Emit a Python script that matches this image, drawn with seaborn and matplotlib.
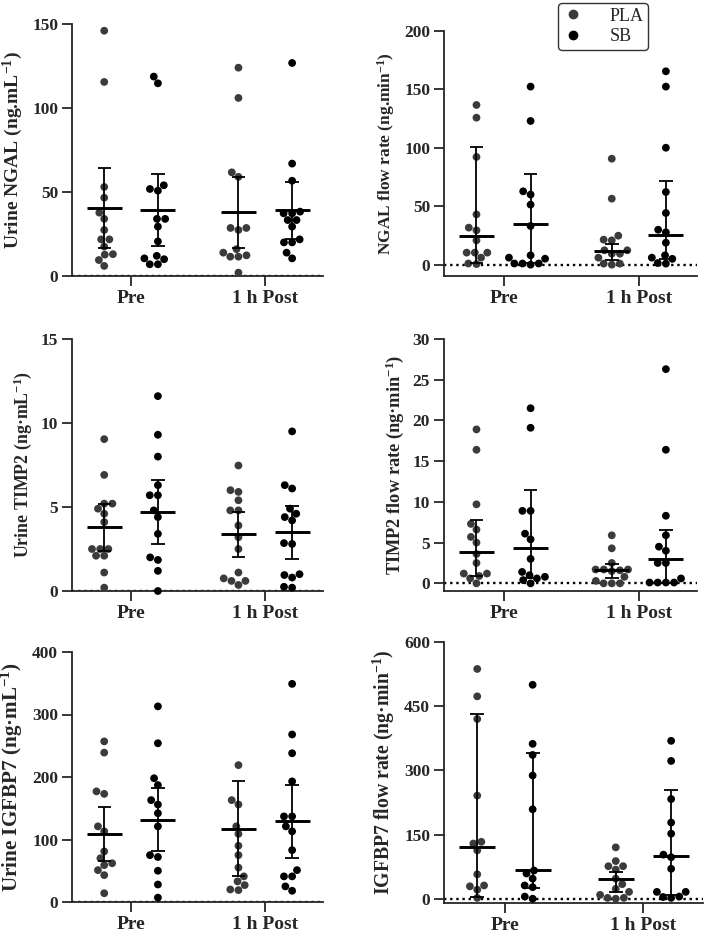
import numpy as np
import pandas as pd
import matplotlib
matplotlib.use('Agg')
import matplotlib.pyplot as plt
from matplotlib.lines import Line2D
import seaborn as sns

sns.set_style('ticks')
plt.rcParams['font.family'] = ['Liberation Serif', 'DejaVu Serif']
plt.rcParams['mathtext.fontset'] = 'custom'
plt.rcParams['mathtext.rm'] = 'Liberation Serif:bold'
plt.rcParams['mathtext.default'] = 'rm'

times = ['Pre', '1 h Post']
groups = ['PLA', 'SB']
group_colors = ['#3b3b3b', '#000000']

# order of every list below: PLA Pre, SB Pre, PLA Post, SB Post
# Urine NGAL (mean +/- SD)
ngal_pla_pre = [146, 115.5, 53, 46.6, 37.7, 34, 27.4, 21.8, 21.8, 17.5, 13, 12.7, 9.5, 6]
ngal_sb_pre = [118.7, 114.7, 54, 51.8, 50.8, 34, 34, 29.4, 20.6, 12, 10.5, 10, 7, 7]
ngal_pla_post = [124, 106, 61.7, 59, 28.6, 28.6, 27.4, 16, 13.9, 12.3, 11.5, 11.5, 2]
ngal_sb_post = [126.8, 66.9, 56.7, 38.3, 37.3, 37.3, 33.3, 33.3, 29.4, 21.8, 20, 20, 13.9, 10.5]
ngal_mid = [40.3, 39.5, 37.9, 39.1]
ngal_lo = [16.5, 18, 16.7, 21.8]
ngal_hi = [64, 60.7, 59, 56]

# NGAL flow rate (median, IQR)
ngalf_pla_pre = [136.7, 125.8, 92.2, 43, 31.7, 29.4, 20.8, 10.3, 10.3, 10.3, 6, 1, 0.5]
ngalf_sb_pre = [152.4, 123, 62.8, 60, 51.4, 33.1, 8, 6, 5.1, 1, 1, 1, 0]
ngalf_pla_post = [90.7, 56.5, 24.8, 21.4, 20.8, 12.3, 12.3, 9.4, 9.4, 6, 0.9, 0.9, 0]
ngalf_sb_post = [165.5, 152.4, 100.1, 62.2, 44.2, 29.9, 27.7, 18.8, 8, 6, 5, 1.4, 0.9]
ngalf_mid = [24.8, 34.5, 11.4, 25.1]
ngalf_lo = [1.5, 1, 3.7, 5]
ngalf_hi = [100.7, 77.6, 18, 71.6]

# Urine TIMP2 (mean +/- SD)
timp_pla_pre = [9.04, 6.91, 5.2, 5.2, 4.9, 4.6, 4.1, 2.5, 2.5, 2.5, 2.1, 2.1, 1.1, 0.2]
timp_sb_pre = [11.6, 9.3, 8.0, 6.3, 5.7, 5.7, 4.8, 4.4, 3.4, 2.0, 1.85, 1.2, 0]
timp_pla_post = [7.47, 6.0, 5.9, 5.4, 4.8, 4.8, 3.9, 3.2, 2.5, 1.1, 0.75, 0.6, 0.6, 0.36]
timp_sb_post = [9.5, 6.3, 6.1, 4.9, 4.6, 4.4, 4.2, 2.85, 2.8, 1.0, 0.95, 0.8, 0.25, 0.2]
timp_mid = [3.78, 4.73, 3.42, 3.5]
timp_lo = [2.4, 2.78, 2.0, 1.9]
timp_hi = [5.19, 6.62, 4.69, 5.07]

# TIMP2 flow rate (median, IQR)
timpf_pla_pre = [18.9, 16.4, 9.7, 7.3, 6.6, 5.7, 5.0, 3.6, 2.5, 1.2, 1.2, 0.9, 0.6, 0]
timpf_sb_pre = [21.5, 19.1, 8.9, 8.9, 6.1, 5.4, 3.0, 1.4, 1.0, 0.8, 0.6, 0.4, 0]
timpf_pla_post = [5.9, 4.3, 2.5, 1.7, 1.7, 1.7, 1.6, 1.5, 0.8, 0.3, 0, 0, 0]
timpf_sb_post = [26.3, 16.4, 8.3, 5.9, 4.5, 4.0, 2.5, 2.5, 0.6, 0.1, 0.1, 0.1, 0.1]
timpf_mid = [3.8, 4.3, 1.6, 3.0]
timpf_lo = [0.95, 0.6, 0.6, 0.1]
timpf_hi = [7.8, 11.5, 2.4, 6.6]

# Urine IGFBP7 (mean +/- SD)
igf_pla_pre = [257, 239, 177, 173, 121, 113, 81, 70, 62, 59, 51, 43, 14]
igf_sb_pre = [313, 254, 198, 187, 163, 156, 142, 121, 75, 72, 50, 28, 7]
igf_pla_post = [219, 163, 156, 121, 109, 90, 75, 55, 41, 33, 27, 20, 19]
igf_sb_post = [349, 268, 238, 193, 137, 137, 121, 113, 83, 51, 41, 41, 25, 18]
igf_mid = [109, 132, 117, 130]
igf_lo = [65, 82, 42, 71]
igf_hi = [152, 182, 193, 187]

# IGFBP7 flow rate (median, IQR)
igff_pla_pre = [537, 473, 420, 241, 133, 129, 113, 57, 31, 29, 21, 2]
igff_sb_pre = [500, 362, 336, 288, 209, 66, 59, 47, 31, 27, 5, 0]
igff_pla_post = [120, 88, 76, 76, 68, 47, 34, 23, 16, 9, 2, 2, 0]
igff_sb_post = [369, 322, 233, 178, 152, 103, 97, 70, 16, 16, 5, 4, 2]
igff_mid = [120, 66, 47, 101]
igff_lo = [4, 26, 16, 8]
igff_hi = [432, 341, 62, 255]


def draw_panel(ax, pts, mid, lo, hi, ylabel, ylim, yticks, lab_size=12.5, legend=False):
    rows = []
    k = 0
    for t in times:
        for g in groups:
            for v in pts[k]:
                rows.append((t, g, v))
            k += 1
    df = pd.DataFrame(rows, columns=['time', 'group', 'value'])
    sns.swarmplot(data=df, x='time', y='value', hue='group', order=times,
                  hue_order=groups, palette=group_colors, dodge=True,
                  size=5.6, ax=ax, legend=False, zorder=3)
    for c in ax.collections:
        c.set_clip_on(False)

    xs = [i + (j - 0.5) * 0.4 for i in range(len(times)) for j in range(len(groups))]
    xs = np.array(xs)
    ax.vlines(xs, lo, hi, color='black', lw=1.3, zorder=4)
    ax.hlines(lo, xs - 0.05, xs + 0.05, color='black', lw=1.3, zorder=4)
    ax.hlines(hi, xs - 0.05, xs + 0.05, color='black', lw=1.3, zorder=4)
    ax.hlines(mid, xs - 0.13, xs + 0.13, color='black', lw=2.1, zorder=4)

    ax.axhline(0, color='black', ls=(0, (1, 1.6)), lw=1.7, zorder=2)
    ax.set_xlim(-0.44, 1.43)
    ax.set_ylim(*ylim)
    ax.set_yticks(yticks)
    ax.set_xlabel('')
    ax.set_ylabel(ylabel, fontsize=lab_size, fontweight='bold', labelpad=5)
    sns.despine(ax=ax)
    for s in ['left', 'bottom']:
        ax.spines[s].set_linewidth(1.3)
    ax.tick_params(axis='both', length=7, width=1.3, pad=3)
    ax.tick_params(axis='y', labelsize=12.5)
    ax.tick_params(axis='x', labelsize=14)
    for lab in ax.get_xticklabels() + ax.get_yticklabels():
        lab.set_fontweight('bold')

    if legend:
        handles = [Line2D([], [], marker='o', ls='', color=c, markersize=6)
                   for c in group_colors]
        leg = ax.legend(handles, groups, loc='upper left',
                        bbox_to_anchor=(0.451, 1.114), borderaxespad=0,
                        frameon=True, fontsize=13, handletextpad=1.4,
                        handlelength=1.2, borderpad=0.25, labelspacing=0.2,
                        fancybox=True)
        leg.get_frame().set_edgecolor('black')
        leg.get_frame().set_linewidth(1.0)


fig = plt.figure(figsize=(7.09, 9.35), dpi=100)
W, H = 709, 935


def add_ax(x0, x1, y0, y1):
    return fig.add_axes([x0 / W, 1 - y1 / H, (x1 - x0) / W, (y1 - y0) / H])


ax1 = add_ax(72, 323, 24, 276)
ax2 = add_ax(444, 697, 31, 276)
ax3 = add_ax(72, 323, 339, 591)
ax4 = add_ax(444, 697, 339, 591)
ax5 = add_ax(72, 323, 652, 902)
ax6 = add_ax(444, 703, 642, 903)

draw_panel(ax1, [ngal_pla_pre, ngal_sb_pre, ngal_pla_post, ngal_sb_post],
           ngal_mid, ngal_lo, ngal_hi, 'Urine NGAL (ng.mL$^{-1}$)',
           (0, 150), [0, 50, 100, 150], lab_size=14)
draw_panel(ax2, [ngalf_pla_pre, ngalf_sb_pre, ngalf_pla_post, ngalf_sb_post],
           ngalf_mid, ngalf_lo, ngalf_hi, 'NGAL flow rate (ng.min$^{-1}$)',
           (-9.7, 200), [0, 50, 100, 150, 200], lab_size=12.5, legend=True)
draw_panel(ax3, [timp_pla_pre, timp_sb_pre, timp_pla_post, timp_sb_post],
           timp_mid, timp_lo, timp_hi, 'Urine TIMP2 (ng·mL$^{-1}$)',
           (0, 15), [0, 5, 10, 15], lab_size=12.9)
draw_panel(ax4, [timpf_pla_pre, timpf_sb_pre, timpf_pla_post, timpf_sb_post],
           timpf_mid, timpf_lo, timpf_hi, 'TIMP2 flow rate (ng·min$^{-1}$)',
           (-0.94, 30), [0, 5, 10, 15, 20, 25, 30], lab_size=13.2)
draw_panel(ax5, [igf_pla_pre, igf_sb_pre, igf_pla_post, igf_sb_post],
           igf_mid, igf_lo, igf_hi, 'Urine IGFBP7 (ng·mL$^{-1}$)',
           (0, 400), [0, 100, 200, 300, 400], lab_size=15.2)
draw_panel(ax6, [igff_pla_pre, igff_sb_pre, igff_pla_post, igff_sb_post],
           igff_mid, igff_lo, igff_hi, 'IGFBP7 flow rate (ng·min$^{-1}$)',
           (-10, 600), [0, 150, 300, 450, 600], lab_size=14.2)

fig.savefig('out.png', dpi=100)
